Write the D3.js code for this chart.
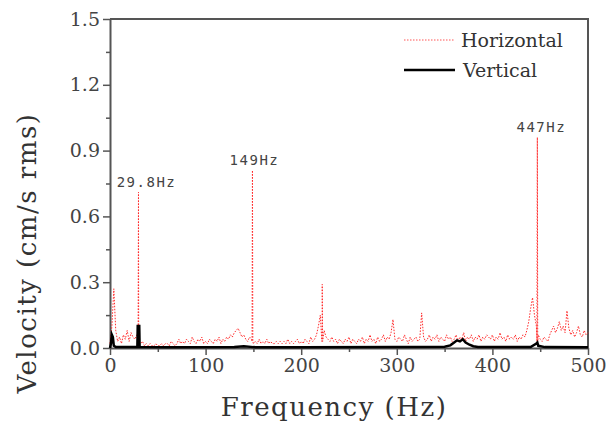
<!DOCTYPE html>
<html>
<head>
<meta charset="utf-8">
<script src="https://cdn.jsdelivr.net/npm/d3@7"></script>
<style>
  body { margin: 0; background: #fff; }
  .tick text { font-family: "DejaVu Serif", serif; font-size: 19px; fill: #444; }
  .axis path, .axis line { stroke: #555; }
</style>
</head>
<body>
<div id="chart"></div>
<script>
// horizontal spectrum, one value every 2 Hz from 0 to 500 Hz
let hStep = 2;
let hVel = [
    0.02,0.10,0.27,0.08,0.03,0.05,0.02,0.06,0.04,0.08,
    0.03,0.07,0.05,0.04,0.06,0.04,0.02,0.03,0.01,0.02,
    0.01,0.02,0.01,0.01,0.02,0.01,0.01,0.02,0.01,0.02,
    0.02,0.01,0.03,0.02,0.01,0.02,0.04,0.02,0.03,0.02,
    0.04,0.03,0.02,0.05,0.03,0.02,0.04,0.03,0.05,0.02,
    0.03,0.02,0.04,0.03,0.02,0.04,0.03,0.05,0.02,0.04,
    0.03,0.05,0.04,0.06,0.05,0.07,0.08,0.09,0.07,0.05,
    0.06,0.04,0.03,0.05,0.04,0.02,0.03,0.02,0.04,0.02,
    0.03,0.02,0.04,0.02,0.03,0.02,0.02,0.03,0.02,0.03,
    0.02,0.03,0.02,0.04,0.02,0.03,0.02,0.03,0.04,0.02,
    0.03,0.02,0.04,0.03,0.02,0.05,0.03,0.04,0.06,0.10,
    0.15,0.12,0.08,0.05,0.04,0.03,0.05,0.03,0.04,0.02,
    0.04,0.03,0.02,0.04,0.03,0.05,0.02,0.04,0.03,0.02,
    0.04,0.03,0.05,0.02,0.04,0.03,0.06,0.03,0.04,0.02,
    0.05,0.03,0.04,0.06,0.03,0.05,0.04,0.07,0.13,0.04,
    0.03,0.05,0.04,0.03,0.06,0.04,0.02,0.05,0.03,0.04,
    0.05,0.03,0.04,0.16,0.05,0.03,0.04,0.06,0.03,0.05,
    0.04,0.06,0.03,0.05,0.04,0.03,0.06,0.04,0.05,0.03,
    0.04,0.06,0.03,0.05,0.04,0.07,0.03,0.05,0.04,0.06,
    0.03,0.05,0.04,0.06,0.03,0.05,0.04,0.06,0.05,0.04,
    0.06,0.03,0.05,0.04,0.07,0.04,0.05,0.03,0.06,0.04,
    0.05,0.04,0.06,0.03,0.05,0.04,0.06,0.05,0.08,0.12,
    0.18,0.23,0.15,0.10,0.06,0.04,0.03,0.05,0.04,0.03,
    0.06,0.08,0.10,0.07,0.09,0.12,0.08,0.10,0.07,0.17,
    0.09,0.06,0.08,0.05,0.07,0.10,0.06,0.05,0.08,0.06,
    0.07
];

// labelled peaks of the horizontal spectrum
let peakFreq = [29.8, 149, 222, 447];
let peakVel = [0.71, 0.81, 0.29, 0.96];
let peakLabel = ["29.8Hz", "149Hz", "", "447Hz"];

// vertical spectrum (mostly flat)
let vFreq = [0, 1, 2, 3, 4, 6, 28.6, 29.0, 30.6, 31.0, 60, 130, 140, 150, 200, 300, 350, 356, 360, 363, 366, 369, 372, 376, 380, 385, 440, 446, 447, 448, 455, 500];
let vVel  = [0, 0.02, 0.06, 0.05, 0.01, 0.005, 0.005, 0.10, 0.10, 0.005, 0.003, 0.005, 0.008, 0.004, 0.003, 0.004, 0.006, 0.012, 0.025, 0.035, 0.03, 0.04, 0.025, 0.015, 0.008, 0.005, 0.004, 0.02, 0.025, 0.01, 0.004, 0.003];

let xTicks = [0, 100, 200, 300, 400, 500];
let yTicks = [0, 0.3, 0.6, 0.9, 1.2, 1.5];

let margin = {top: 19, right: 20, bottom: 73, left: 110};
let W = 608, H = 421;
let width = W - margin.left - margin.right;
let height = H - margin.top - margin.bottom;

let svg = d3.select("#chart").append("svg")
    .attr("width", W)
    .attr("height", H);

let g = svg.append("g")
    .attr("transform", `translate(${margin.left},${margin.top})`);

let x = d3.scaleLinear().domain([0, 500]).range([0, width]);
let y = d3.scaleLinear().domain([0, 1.5]).range([height, 0]);

// build horizontal series from the grid plus the peaks
let hData = hVel.map((v, i) => ({f: i * hStep, v: v}));
peakFreq.forEach((f, i) => {
    hData.push({f: f - 0.4, v: 0.03});
    hData.push({f: f, v: peakVel[i]});
    hData.push({f: f + 0.4, v: 0.03});
});
hData.sort((a, b) => a.f - b.f);

let vData = vFreq.map((f, i) => ({f: f, v: vVel[i]}));

let line = d3.line()
    .x(d => x(d.f))
    .y(d => y(d.v));

// minor ticks
g.append("g")
    .attr("class", "axis")
    .attr("transform", `translate(0,${height})`)
    .call(d3.axisBottom(x).tickValues([50, 150, 250, 350, 450]).tickSize(4).tickFormat(""))
    .select(".domain").remove();
g.append("g")
    .attr("class", "axis")
    .call(d3.axisLeft(y).tickValues([0.15, 0.45, 0.75, 1.05, 1.35]).tickSize(4).tickFormat(""))
    .select(".domain").remove();

// major axes
let xAxisG = g.append("g")
    .attr("class", "axis")
    .attr("transform", `translate(0,${height})`)
    .call(d3.axisBottom(x).tickValues(xTicks).tickSize(7).tickPadding(4).tickSizeOuter(0).tickFormat(d3.format("d")));

let yAxisG = g.append("g")
    .attr("class", "axis")
    .call(d3.axisLeft(y).tickValues(yTicks).tickSize(7).tickPadding(3).tickSizeOuter(0).tickFormat(d3.format(".1f")));

g.selectAll(".axis line").attr("stroke-width", 1.5);
g.selectAll(".axis .domain").attr("stroke-width", 2);

// frame top and right
g.append("path")
    .attr("d", `M0,0H${width}V${height}`)
    .attr("fill", "none")
    .attr("stroke", "#555")
    .attr("stroke-width", 2);

// series
g.append("path")
    .datum(hData)
    .attr("fill", "none")
    .attr("stroke", "#ff2a2a")
    .attr("stroke-width", 1)
    .attr("stroke-dasharray", "1.5,1.5")
    .attr("d", line);

g.append("path")
    .datum(vData)
    .attr("fill", "none")
    .attr("stroke", "#000")
    .attr("stroke-width", 2.5)
    .attr("d", line);

// peak labels
let offs = [8, 2, 0, 4];
peakFreq.forEach((f, i) => {
    if (!peakLabel[i]) return;
    g.append("text")
        .attr("x", x(f) + offs[i])
        .attr("y", y(peakVel[i]) - 5)
        .attr("text-anchor", "middle")
        .attr("font-family", "DejaVu Sans Mono, monospace")
        .attr("font-size", 14)
        .attr("letter-spacing", 1.5)
        .attr("fill", "#444")
        .text(peakLabel[i]);
});

// legend
let leg = svg.append("g");
leg.append("line")
    .attr("x1", 404).attr("x2", 455).attr("y1", 40).attr("y2", 40)
    .attr("stroke", "#ff5555").attr("stroke-width", 1).attr("stroke-dasharray", "1.5,1.5");
leg.append("text")
    .attr("x", 461).attr("y", 47)
    .attr("font-family", "DejaVu Serif, serif").attr("font-size", 19).attr("fill", "#333")
    .text("Horizontal");
leg.append("line")
    .attr("x1", 404).attr("x2", 455).attr("y1", 70).attr("y2", 70)
    .attr("stroke", "#000").attr("stroke-width", 2.5);
leg.append("text")
    .attr("x", 463).attr("y", 77)
    .attr("font-family", "DejaVu Serif, serif").attr("font-size", 19).attr("fill", "#333")
    .text("Vertical");

// axis titles
svg.append("text")
    .attr("x", 334).attr("y", 416)
    .attr("text-anchor", "middle")
    .attr("font-family", "DejaVu Serif, serif").attr("font-size", 26).attr("fill", "#333")
    .attr("letter-spacing", 1.5)
    .text("Frequency (Hz)");

svg.append("text")
    .attr("transform", "translate(36,253) rotate(-90)")
    .attr("text-anchor", "middle")
    .attr("font-family", "DejaVu Serif, serif").attr("font-size", 26).attr("fill", "#333")
    .attr("letter-spacing", 1.5)
    .text("Velocity (cm/s rms)");
</script>
</body>
</html>
